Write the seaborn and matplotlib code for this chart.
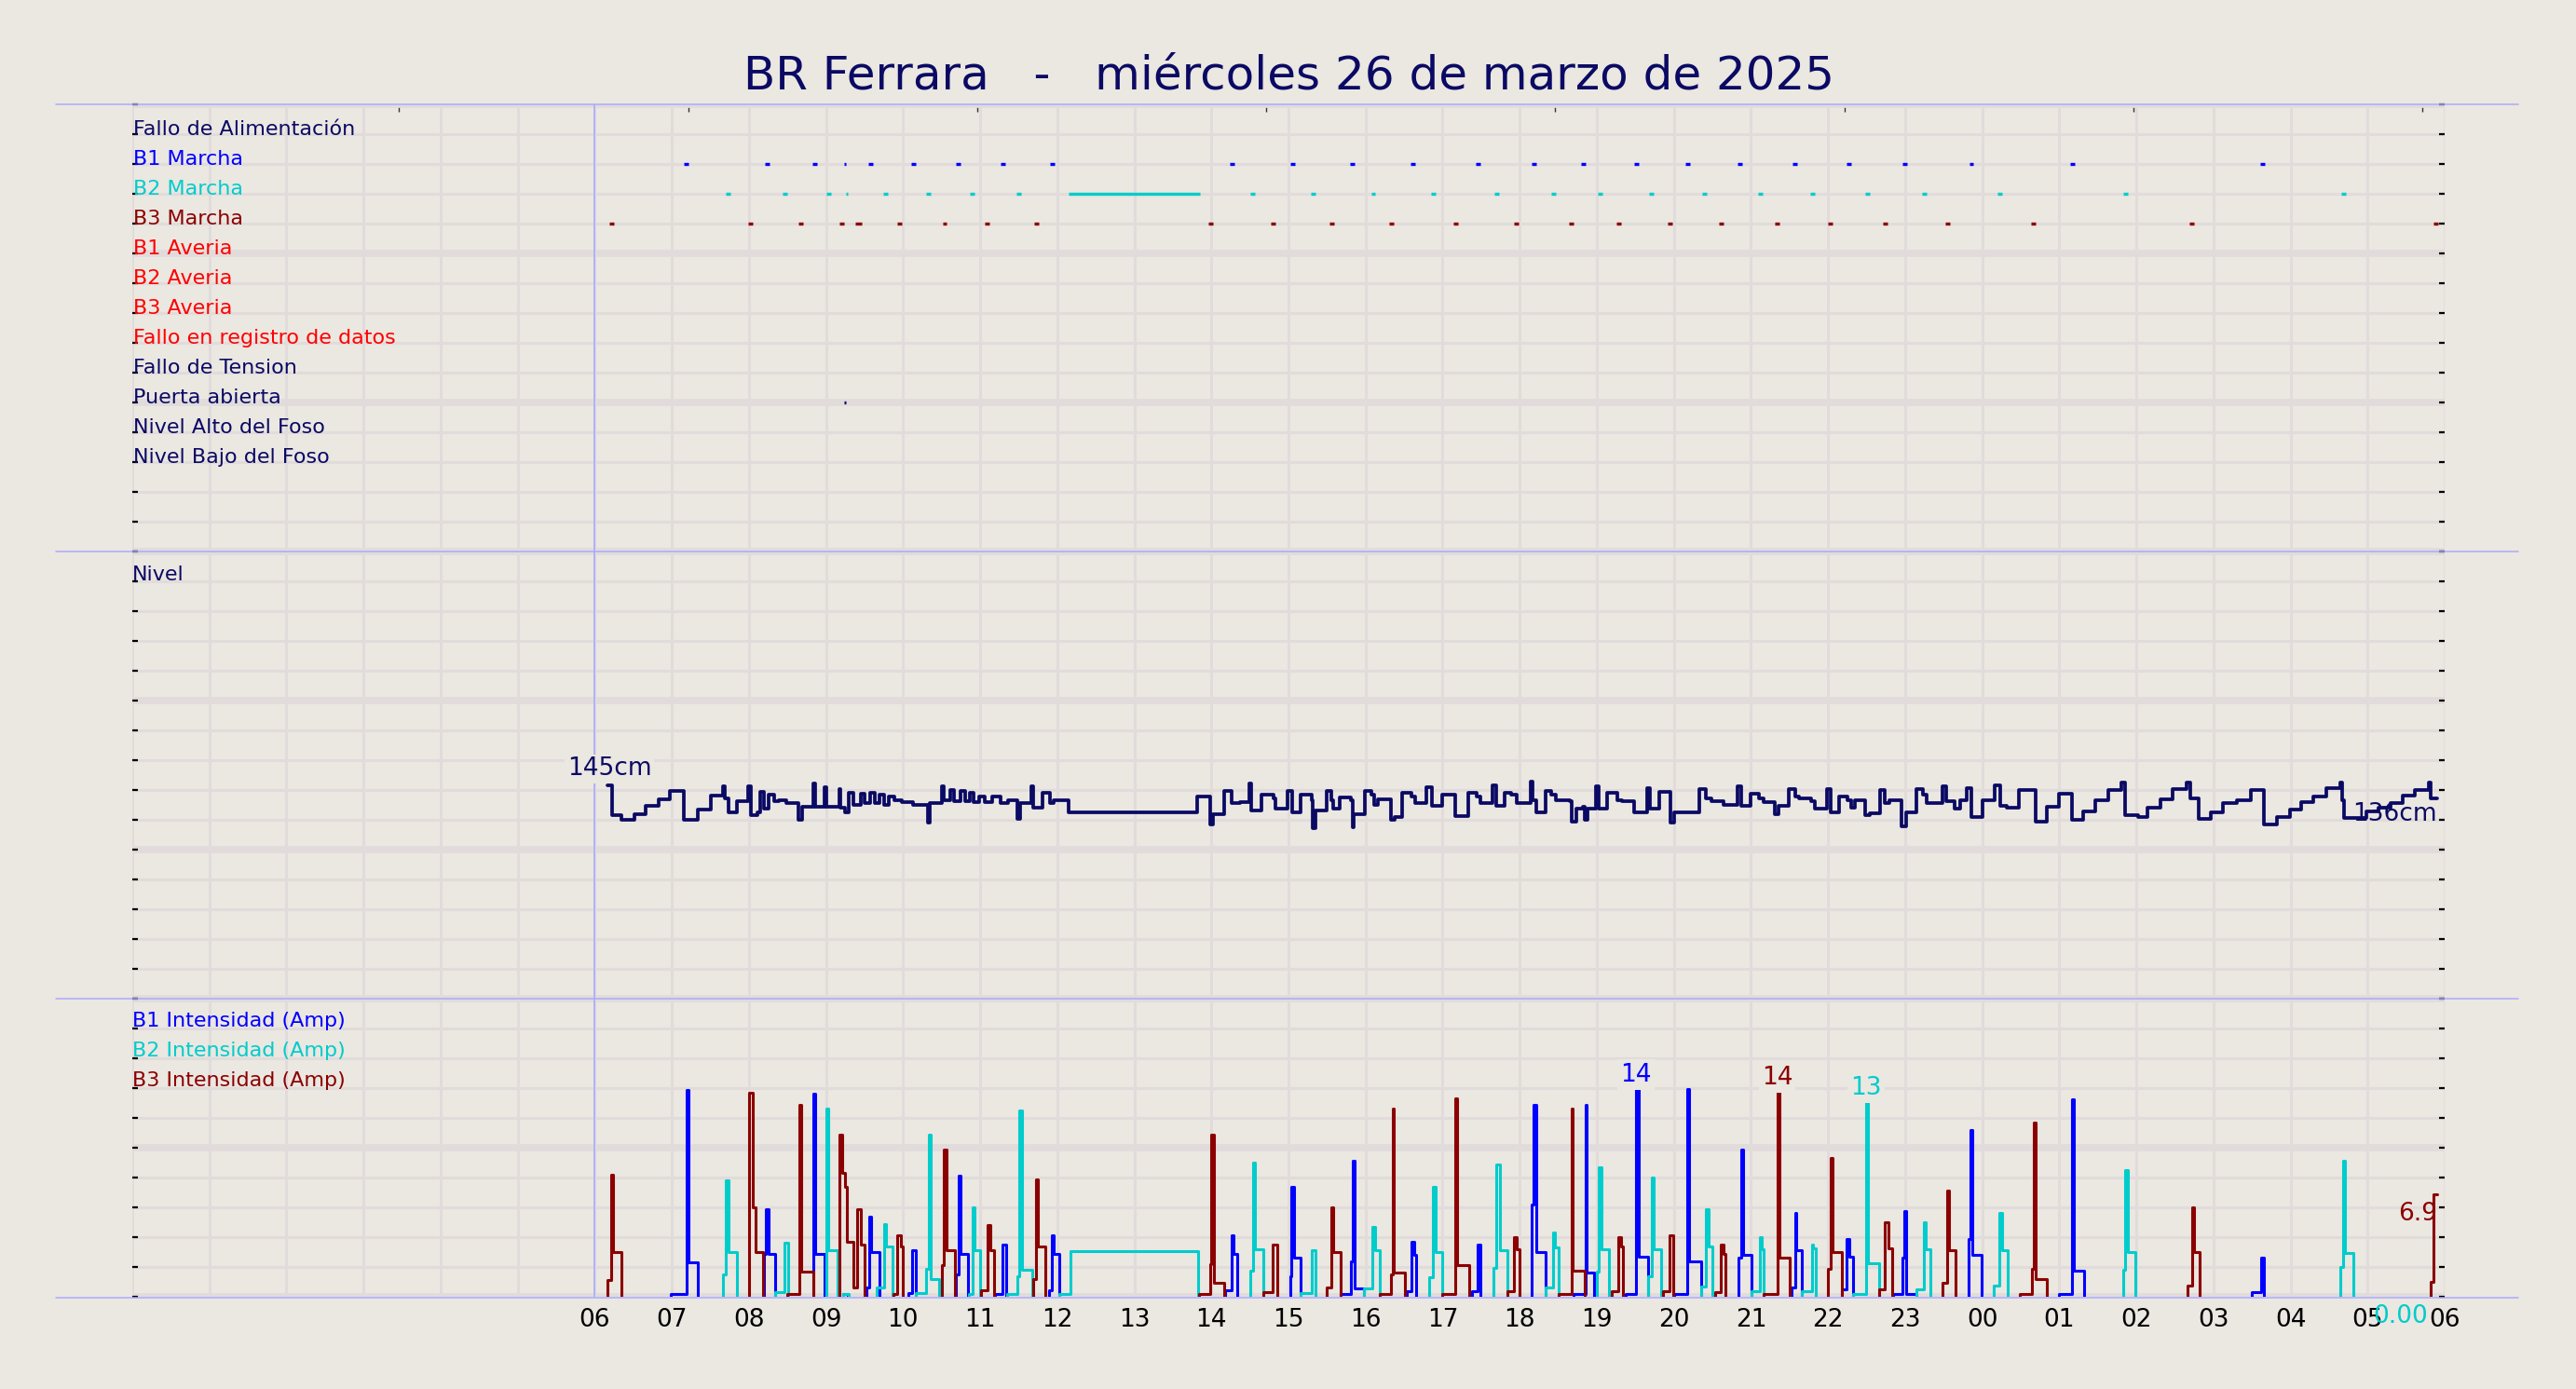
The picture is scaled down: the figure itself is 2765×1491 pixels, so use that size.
import numpy as np
import pandas as pd
import matplotlib
matplotlib.use("Agg")
import matplotlib.pyplot as plt
from matplotlib.lines import Line2D
from matplotlib.ticker import MultipleLocator, FixedLocator
import seaborn as sns

nan = float("nan")

# ---------------------------------------------------------------- data
title_text = "BR Ferrara   -   miércoles 26 de marzo de 2025"
hour_ticks = list(range(0, 31))
hour_labels = ["", "", "", "", "", "",
               "06", "07", "08", "09", "10", "11", "12", "13", "14", "15", "16", "17",
               "18", "19", "20", "21", "22", "23", "00", "01", "02", "03", "04", "05", "06"]

event_labels = ["Fallo de Alimentación", "B1 Marcha", "B2 Marcha", "B3 Marcha",
                "B1 Averia", "B2 Averia", "B3 Averia", "Fallo en registro de datos",
                "Fallo de Tension", "Puerta abierta", "Nivel Alto del Foso", "Nivel Bajo del Foso"]
intensity_labels = ["B1 Intensidad (Amp)", "B2 Intensidad (Amp)", "B3 Intensidad (Amp)"]

# pump running periods (hours since 00:00 of 26-03)
b1_on = [7.16, 8.21, 8.82, 9.24, 9.55, 10.11, 10.69, 11.26, 11.91, 14.24, 15.02, 15.80, 16.58,
         17.43, 18.16, 18.80, 19.49, 20.15, 20.83, 21.54, 22.24, 22.96, 23.83, 25.14, 27.61]
b1_off = [7.22, 8.27, 8.89, 9.26, 9.61, 10.17, 10.75, 11.32, 11.97, 14.30, 15.08, 15.86, 16.64,
          17.49, 18.22, 18.86, 19.55, 20.21, 20.89, 21.60, 22.30, 23.02, 23.89, 25.20, 27.67]
b2_on = [7.70, 8.44, 9.00, 9.26, 9.74, 10.30, 10.87, 11.47, 12.15, 14.51, 15.29, 16.07, 16.85,
         17.67, 18.41, 19.01, 19.68, 20.37, 21.09, 21.77, 22.48, 23.22, 24.20, 25.83, 28.66]
b2_off = [7.76, 8.50, 9.06, 9.28, 9.80, 10.36, 10.93, 11.53, 13.85, 14.57, 15.35, 16.13, 16.91,
          17.73, 18.47, 19.07, 19.74, 20.43, 21.15, 21.83, 22.54, 23.28, 24.26, 25.89, 28.72]
b3_on = [6.19, 7.99, 8.64, 9.18, 9.38, 9.92, 10.51, 11.06, 11.70, 13.96, 14.77, 15.53, 16.30,
         17.14, 17.92, 18.64, 19.26, 19.92, 20.59, 21.31, 22.00, 22.71, 23.52, 24.63, 26.69, 29.85]
b3_off = [6.25, 8.05, 8.70, 9.24, 9.46, 9.98, 10.57, 11.12, 11.76, 14.02, 14.83, 15.59, 16.36,
          17.20, 17.98, 18.70, 19.32, 19.98, 20.65, 21.37, 22.06, 22.77, 23.58, 24.69, 26.75, 29.92]
puerta_on = [9.23]
puerta_off = [9.255]

# well level (cm)
level_t = [6.16, 6.22, 6.34, 6.51, 6.66, 6.83, 6.98, 7.16, 7.34, 7.50, 7.66, 7.69, 7.73, 7.84, 7.99,
           8.02, 8.11, 8.15, 8.20, 8.25, 8.33, 8.39, 8.48, 8.64, 8.69, 8.83, 8.86, 8.98, 9.01, 9.17,
           9.19, 9.25, 9.30, 9.35, 9.45, 9.50, 9.57, 9.63, 9.69, 9.75, 9.81, 9.89, 9.98, 10.13, 10.32,
           10.35, 10.50, 10.53, 10.61, 10.66, 10.75, 10.81, 10.87, 10.92, 10.99, 11.06, 11.16, 11.27,
           11.36, 11.48, 11.52, 11.66, 11.69, 11.81, 11.90, 11.95, 12.15, 13.81,
           13.99, 14.02, 14.16, 14.26, 14.37, 14.49, 14.52, 14.65, 14.81, 14.83, 14.99, 15.05, 15.16,
           15.30, 15.32, 15.35, 15.49, 15.55, 15.58, 15.66, 15.81, 15.83, 15.85, 15.99, 16.07, 16.11,
           16.16, 16.30, 16.33, 16.38, 16.48, 16.59, 16.64, 16.79, 16.86, 17.00, 17.16, 17.33, 17.44,
           17.49, 17.65, 17.69, 17.81, 17.89, 17.96, 18.14, 18.17, 18.21, 18.33, 18.41, 18.47, 18.65,
           18.68, 18.73, 18.82, 18.84, 18.88, 18.99, 19.02, 19.13, 19.27, 19.33, 19.48, 19.65, 19.69,
           19.81, 19.96, 20.00, 20.33, 20.41, 20.49, 20.64, 20.82, 20.87, 21.00, 21.10, 21.16, 21.31,
           21.36, 21.49, 21.57, 21.62, 21.78, 21.83,
           21.99, 22.04, 22.14, 22.25, 22.30, 22.35, 22.48, 22.54, 22.67, 22.73, 22.80, 22.95, 23.01,
           23.15, 23.23, 23.28, 23.48, 23.53, 23.64, 23.72, 23.80, 23.86, 24.00, 24.16, 24.24, 24.32,
           24.48, 24.69, 24.84, 24.99, 25.16, 25.31, 25.47, 25.64, 25.81, 25.86, 26.02, 26.15, 26.31,
           26.47, 26.65, 26.70, 26.81, 26.97, 27.12, 27.31, 27.49, 27.65, 27.83, 27.99, 28.14, 28.30,
           28.47, 28.65, 28.67, 28.69, 28.98, 29.14, 29.30, 29.46, 29.61, 29.80, 29.82, 29.90]
level_cm = [145.0, 124.7, 121.5, 125.7, 131.0, 135.8, 141.5, 121.9, 128.4, 137.9, 144.7, 136.3, 126.8,
            134.1, 144.7, 124.7, 126.8, 140.5, 129.3, 138.4, 134.1, 135.2, 132.7, 121.5, 130.6, 146.2,
            130.6, 143.6, 130.6, 142.6, 129.9, 126.8, 139.8, 132.0, 139.4, 132.7, 139.8, 132.7, 139.0,
            132.0, 137.7, 135.2, 133.5, 132.0, 119.4, 133.1, 144.7, 135.2, 142.0, 134.1, 141.5, 134.1,
            139.8, 133.5, 137.7, 133.5, 137.7, 132.7, 134.8, 122.5, 133.1, 144.7, 129.9, 139.8, 132.7,
            135.2, 126.8, 137.7,
            118.7, 125.7, 141.5, 132.7, 133.5, 146.2, 127.8, 139.0, 136.3, 128.9, 141.1, 126.8, 139.0,
            135.2, 116.2, 127.8, 141.5, 135.2, 128.9, 136.9, 135.2, 116.6, 125.7, 141.5, 138.4, 132.0,
            135.8, 135.8, 121.9, 123.6, 139.8, 137.7, 132.7, 143.6, 131.0, 139.0, 124.2, 139.8, 137.3,
            132.7, 145.1, 131.4, 139.8, 139.0, 133.1, 147.4, 135.2, 126.8, 141.5, 138.4, 135.2, 134.1,
            120.4, 128.9, 130.6, 121.5, 128.9, 144.3, 128.9, 139.8, 135.2, 134.1, 126.8, 143.0, 128.9,
            140.5, 119.4, 126.8, 142.6, 136.3, 134.1, 132.0, 144.1, 131.4, 139.4, 136.3, 133.5, 125.7,
            131.0, 142.6, 137.7, 136.3, 134.1, 129.3,
            142.6, 126.8, 137.3, 135.2, 129.9, 135.2, 124.7, 126.3, 142.0, 133.1, 135.2, 117.3, 126.8,
            142.6, 139.0, 133.1, 144.7, 134.1, 128.9, 135.2, 143.2, 123.6, 135.2, 145.3, 131.0, 129.9,
            141.9, 120.4, 130.6, 139.4, 121.5, 127.2, 135.2, 141.9, 146.8, 124.7, 123.6, 129.9, 135.6,
            142.2, 146.8, 136.3, 122.5, 126.8, 132.7, 135.2, 141.9, 118.3, 123.6, 128.4, 133.5, 137.3,
            143.0, 146.8, 135.2, 123.0, 127.0, 129.9, 133.1, 137.9, 141.9, 146.8, 136.0, 136.0]

# pump currents (A); runs separated by nan
b1_t = [6.99, 7.19, 7.22, 7.34, nan, 8.20, 8.22, 8.25, 8.34, nan, 8.83, 8.86, 8.98, nan, 9.22, 9.28, nan,
        9.52, 9.56, 9.58, 9.69, nan, 10.07, 10.12, 10.17, nan, 10.69, 10.72, 10.745, 10.84, nan,
        11.19, 11.29, 11.34, nan, 11.89, 11.93, 11.96, 12.03, nan, 14.18, 14.26, 14.29, 14.34, nan,
        15.02, 15.04, 15.07, 15.16, nan, 15.68, 15.81, 15.84, 15.86, 15.98, nan, 16.53, 16.60, 16.63, 16.66, nan,
        17.38, 17.45, 17.49, nan, 18.16, 18.18, 18.21, 18.34, nan, 18.70, 18.85, 18.87, 18.97, nan,
        19.37, 19.51, 19.54, 19.66, nan, 20.00, 20.17, 20.20, 20.36, nan, 20.84, 20.87, 20.90, 21.01, nan,
        21.53, 21.57, 21.59, 21.66, nan, 22.18, 22.24, 22.28, 22.32, nan, 22.85, 22.97, 22.99, 23.01, 23.15, nan,
        23.82, 23.85, 23.87, 23.99, nan, 25.00, 25.16, 25.19, 25.32, nan, 27.50, 27.62, 27.66]
b1_a = [0.17, 13.9, 2.3, 0, nan, 2.9, 5.9, 2.9, 0, nan, 13.6, 2.9, 0, nan, 0.2, 0, nan,
        0.65, 5.4, 3.0, 0, nan, 0.27, 3.1, 0, nan, 1.5, 8.1, 2.9, 0, nan,
        0.2, 3.5, 0, nan, 0.44, 4.1, 2.9, 0, nan, 0.44, 4.1, 2.9, 0, nan,
        1.4, 7.4, 2.6, 0, nan, 0.17, 2.4, 9.1, 0.54, 0, nan, 0.4, 3.7, 2.8, 0, nan,
        0.38, 3.5, 0, nan, 6.2, 12.9, 3.0, 0, nan, 0.17, 12.9, 1.6, 0, nan,
        0.17, 14.0, 2.7, 0, nan, 0.17, 13.95, 2.4, 0, nan, 2.6, 9.9, 2.8, 0, nan,
        0.6, 5.6, 3.1, 0, nan, 0.5, 3.9, 2.7, 0, nan, 0.2, 2.6, 5.75, 0.17, 0, nan,
        3.9, 11.2, 2.8, 0, nan, 0.17, 13.25, 1.75, 0, nan, 0.3, 2.6, 0]

b2_t = [7.66, 7.70, 7.73, 7.84, nan, 8.34, 8.46, 8.51, nan, 9.00, 9.03, 9.15, nan, 9.22, 9.29, nan,
        9.66, 9.76, 9.78, 9.86, nan, 10.16, 10.30, 10.34, 10.36, 10.47, nan, 10.85, 10.90, 10.93, 11.00, nan,
        11.35, 11.48, 11.51, 11.54, 11.68, nan, 12.03, 12.17, 13.83, nan, 14.50, 14.54, 14.56, 14.67, nan,
        15.16, 15.30, 15.35, nan, 15.98, 16.09, 16.12, 16.18, nan, 16.83, 16.87, 16.91, 17.00, nan,
        17.66, 17.70, 17.74, 17.84, nan, 18.34, 18.43, 18.46, 18.51, nan, 19.00, 19.03, 19.06, 19.16, nan,
        19.66, 19.71, 19.74, 19.84, nan, 20.36, 20.41, 20.45, 20.50, nan, 21.01, 21.11, 21.14, 21.17, nan,
        21.66, 21.79, 21.81, 21.84, nan, 22.32, 22.49, 22.52, 22.66, nan, 23.15, 23.24, 23.27, 23.33, nan,
        24.15, 24.22, 24.26, 24.33, nan, 25.83, 25.86, 25.89, 25.99, nan, 28.65, 28.68, 28.71, 28.82, nan, 29.78]
b2_a = [1.5, 7.8, 3.0, 0, nan, 0.33, 3.6, 0, nan, 12.6, 3.1, 0, nan, 0.17, 0, nan,
        0.6, 4.9, 3.35, 0, nan, 0.23, 1.9, 10.85, 1.2, 0, nan, 0.2, 6.0, 3.1, 0, nan,
        0.2, 1.4, 12.5, 1.8, 0, nan, 0.2, 3.04, 0, nan, 1.75, 9.0, 3.2, 0, nan,
        0.27, 3.1, 0, nan, 0.54, 4.7, 3.1, 0, nan, 1.3, 7.4, 3.0, 0, nan,
        1.96, 8.9, 3.15, 0, nan, 0.6, 4.3, 3.3, 0, nan, 1.7, 8.7, 3.2, 0, nan,
        1.4, 8.0, 3.2, 0, nan, 0.7, 5.85, 3.4, 0, nan, 0.4, 4.0, 3.2, 0, nan,
        0.4, 3.5, 3.25, 0, nan, 0.17, 13.1, 2.25, 0, nan, 0.5, 5.0, 3.2, 0, nan,
        0.75, 5.6, 3.15, 0, nan, 1.8, 8.5, 3.0, 0, nan, 2.0, 9.1, 2.96, 0, nan, 0]

b3_t = [6.17, 6.21, 6.24, 6.34, nan, 8.00, 8.05, 8.09, 8.18, nan, 8.50, 8.66, 8.68, 8.83, nan,
        9.17, 9.21, 9.25, 9.27, 9.35, 9.40, 9.45, 9.50, nan, 9.87, 9.92, 9.97, 10.00, nan,
        10.50, 10.53, 10.56, 10.67, nan, 11.01, 11.09, 11.13, 11.18, nan, 11.69, 11.72, 11.75, 11.84, nan,
        13.84, 13.98, 14.00, 14.03, 14.17, nan, 14.67, 14.80, 14.85, nan, 15.50, 15.55, 15.58, 15.68, nan,
        16.19, 16.33, 16.35, 16.37, 16.51, nan, 17.00, 17.16, 17.19, 17.34, nan, 17.84, 17.93, 17.96, 18.00, nan,
        18.51, 18.67, 18.69, 18.84, nan, 19.19, 19.28, 19.32, 19.34, nan, 19.86, 19.94, 19.99, nan,
        20.53, 20.61, 20.64, 20.67, nan, 21.17, 21.34, 21.37, 21.50, nan, 22.00, 22.03, 22.06, 22.18, nan,
        22.66, 22.74, 22.78, 22.83, nan, 23.49, 23.54, 23.57, 23.66, nan, 24.49, 24.64, 24.67, 24.69, 24.84, nan,
        26.66, 26.72, 26.75, 26.82, nan, 29.82, 29.86, 29.90]
b3_a = [1.1, 8.2, 3.0, 0, nan, 13.7, 6.0, 3.0, 0, nan, 0.17, 12.9, 1.7, 0, nan,
        10.9, 8.3, 7.4, 3.7, 0.6, 5.9, 3.5, 0, nan, 0.2, 4.1, 3.35, 0, nan,
        2.1, 9.9, 3.1, 0, nan, 0.44, 4.8, 3.1, 0, nan, 1.2, 7.85, 3.4, 0, nan,
        0.2, 2.2, 10.9, 0.96, 0, nan, 0.33, 3.5, 0, nan, 0.65, 6.0, 3.0, 0, nan,
        0.2, 1.5, 12.6, 1.6, 0, nan, 0.2, 13.3, 2.1, 0, nan, 0.38, 4.0, 3.2, 0, nan,
        0.17, 12.6, 1.75, 0, nan, 0.38, 4.0, 3.4, 0, nan, 0.38, 4.1, 0, nan,
        0.33, 3.5, 2.9, 0, nan, 0.17, 13.8, 2.6, 0, nan, 1.9, 9.3, 3.0, 0, nan,
        0.5, 5.0, 3.25, 0, nan, 0.96, 7.1, 3.1, 0, nan, 0.2, 1.9, 11.7, 1.2, 0, nan,
        0.75, 6.0, 3.0, 0, nan, 1.0, 6.9, 6.9]

# ---------------------------------------------------------------- style
BG = "#ebe7e1"
GRID = "#e1dcdb"
LAV = "#aaaaff"
NAVY = "#0a0a64"
BLUE = "#0000ff"
CYAN = "#00cccc"
DARKRED = "#8b0000"
RED = "#ff0000"

event_colors = [NAVY, BLUE, CYAN, DARKRED, RED, RED, RED, RED, NAVY, NAVY, NAVY, NAVY]
pump_colors = [BLUE, CYAN, DARKRED]

sns.set_theme(style="white", rc={"figure.facecolor": BG, "axes.facecolor": BG})
plt.rcParams["font.family"] = ["DejaVu Sans"]

W, H = 2765, 1491
fig = plt.figure(figsize=(W / 100, H / 100), dpi=100)
fig.patch.set_facecolor(BG)

x0, x1 = 142, 2624
def add_panel(top, bottom):
    return fig.add_axes([x0 / W, 1 - bottom / H, (x1 - x0) / W, (bottom - top) / H])

ax1 = add_panel(112, 592)
ax2 = add_panel(592, 1072)
ax3 = add_panel(1072, 1392)

LEVEL_MAX = 304.0

def style_axis(ax, ymax, step, show_x):
    ax.set_facecolor(BG)
    ax.set_xlim(0, 30)
    ax.set_ylim(0, ymax)
    ax.xaxis.set_major_locator(FixedLocator(hour_ticks))
    ax.yaxis.set_major_locator(MultipleLocator(step * 5))
    ax.yaxis.set_minor_locator(MultipleLocator(step))
    ax.grid(True, which="major", axis="y", color=GRID, lw=5.5)
    ax.grid(True, which="minor", axis="y", color=GRID, lw=2.2)
    ax.grid(True, which="major", axis="x", color=GRID, lw=2.1)
    ax.set_axisbelow(True)
    for s in ax.spines.values():
        s.set_visible(False)
    ax.tick_params(axis="y", which="both", direction="in", left=True, right=True,
                   length=4, width=1.6, color="black", labelleft=False, labelright=False)
    ax.tick_params(axis="x", length=0, labelbottom=show_x, pad=9, labelsize=19, labelcolor="black")
    if show_x:
        ax.set_xticklabels(hour_labels)
    ax.set_xlabel("")
    ax.set_ylabel("")
    ax.axvline(6, color=LAV, lw=1.2, zorder=1.5)

style_axis(ax1, 15, 1, False)
style_axis(ax2, LEVEL_MAX, LEVEL_MAX / 15, False)
style_axis(ax3, 20, 2, True)

# ---------------------------------------------------------------- top panel: events
lab_tr = ax1.get_yaxis_transform()
for i, (lab, col) in enumerate(zip(event_labels, event_colors)):
    ax1.text(0.0005, 14 - i - 0.03, lab, transform=lab_tr, color=col, fontsize=16,
             ha="left", va="baseline")

def event_frame(on, off, row):
    rows = []
    for k, (a, b) in enumerate(zip(on, off)):
        rows.append((a, row, k))
        rows.append((b, row, k))
    return pd.DataFrame(rows, columns=["t", "y", "ev"])

for on, off, row, col in [(b1_on, b1_off, 13, BLUE), (b2_on, b2_off, 12, CYAN),
                          (b3_on, b3_off, 11, DARKRED), (puerta_on, puerta_off, 5, NAVY)]:
    df = event_frame(on, off, row)
    sns.lineplot(data=df, x="t", y="y", units="ev", estimator=None, sort=False,
                 color=col, lw=2.4, solid_capstyle="butt", legend=False, ax=ax1)

sec = ax1.secondary_xaxis("top")
sec.set_xticks([3.46, 7.21, 10.96, 14.71, 18.46, 22.21, 25.96, 29.71])
sec.set_xticklabels([])
sec.tick_params(direction="in", length=6, width=1.0, color="#333333")
for s in sec.spines.values():
    s.set_visible(False)
ax1.set_xlabel("")
ax1.set_ylabel("")

# ---------------------------------------------------------------- middle panel: level
sns.lineplot(x=level_t, y=level_cm, estimator=None, sort=False, drawstyle="steps-post",
             color=NAVY, lw=2.7, ax=ax2, legend=False)
ax2.text(0.0, 14 / 15 + 0.002, "Nivel", transform=ax2.transAxes, color=NAVY, fontsize=16,
         ha="left", va="baseline")
ax2.annotate(f"{level_cm[0]:.0f}cm", (level_t[0], level_cm[0]), xytext=(2, 3.5),
             textcoords="offset points", ha="center", va="bottom", fontsize=19, color=NAVY,
             bbox=dict(boxstyle="square,pad=0.1", fc=BG, ec="none"))
ax2.annotate(f"{level_cm[-1]:.0f}cm", (level_t[-1], level_cm[-1]), xytext=(0, -3),
             textcoords="offset points", ha="right", va="top", fontsize=19, color=NAVY, zorder=1.8)
ax2.set_xlabel("")
ax2.set_ylabel("")

# ---------------------------------------------------------------- bottom panel: currents
def run_frame(t, a):
    rows, run, first = [], 0, True
    for ti, ai in zip(t, a):
        if np.isnan(ti):
            run += 1
            first = True
            continue
        if first:
            rows.append((ti, 0.0, run))
            first = False
        rows.append((ti, ai, run))
    return pd.DataFrame(rows, columns=["t", "a", "run"])

def fmt(v):
    return "0.00" if v == 0 else f"{v:.2g}"

series = [(b1_t, b1_a), (b2_t, b2_a), (b3_t, b3_a)]
for (t, a), col in zip(series, pump_colors):
    df = run_frame(t, a)
    sns.lineplot(data=df, x="t", y="a", units="run", estimator=None, sort=False,
                 drawstyle="steps-post", color=col, lw=2.2, legend=False, ax=ax3)

for idx, ((t, a), col) in enumerate(zip(series, pump_colors)):
    ta, aa = np.array(t), np.array(a)
    k = np.nanargmax(aa)
    ax3.annotate(fmt(aa[k]), (ta[k], aa[k]), xytext=(0, 1), textcoords="offset points",
                 ha="center", va="bottom", fontsize=19, color=col,
                 bbox=dict(boxstyle="square,pad=0.12", fc=BG, ec="none"))
    if idx > 0:
        good = ~np.isnan(ta)
        lt, la = ta[good][-1], aa[good][-1]
        ax3.annotate(fmt(la), (lt, la), xytext=(0, -6), textcoords="offset points",
                     ha="right", va="top", fontsize=19, color=col, annotation_clip=False)

tr3 = ax3.get_yaxis_transform()
for i, (lab, col) in enumerate(zip(intensity_labels, pump_colors)):
    ax3.text(0.0, 18 - 2 * i + 0.1, lab, transform=tr3, color=col, fontsize=16,
             ha="left", va="baseline")
ax3.set_xlabel("")
ax3.set_ylabel("")

# ---------------------------------------------------------------- frame lines & title
for yy in (112, 592, 1072, 1393):
    fig.add_artist(Line2D([60 / W, 2703 / W], [1 - yy / H, 1 - yy / H], transform=fig.transFigure,
                          color=LAV, lw=1.1))

fig.text(1384 / W, 1 - 82 / H, title_text, ha="center", va="center", fontsize=36, color=NAVY)

fig.savefig("out.png", dpi=100, facecolor=BG)
